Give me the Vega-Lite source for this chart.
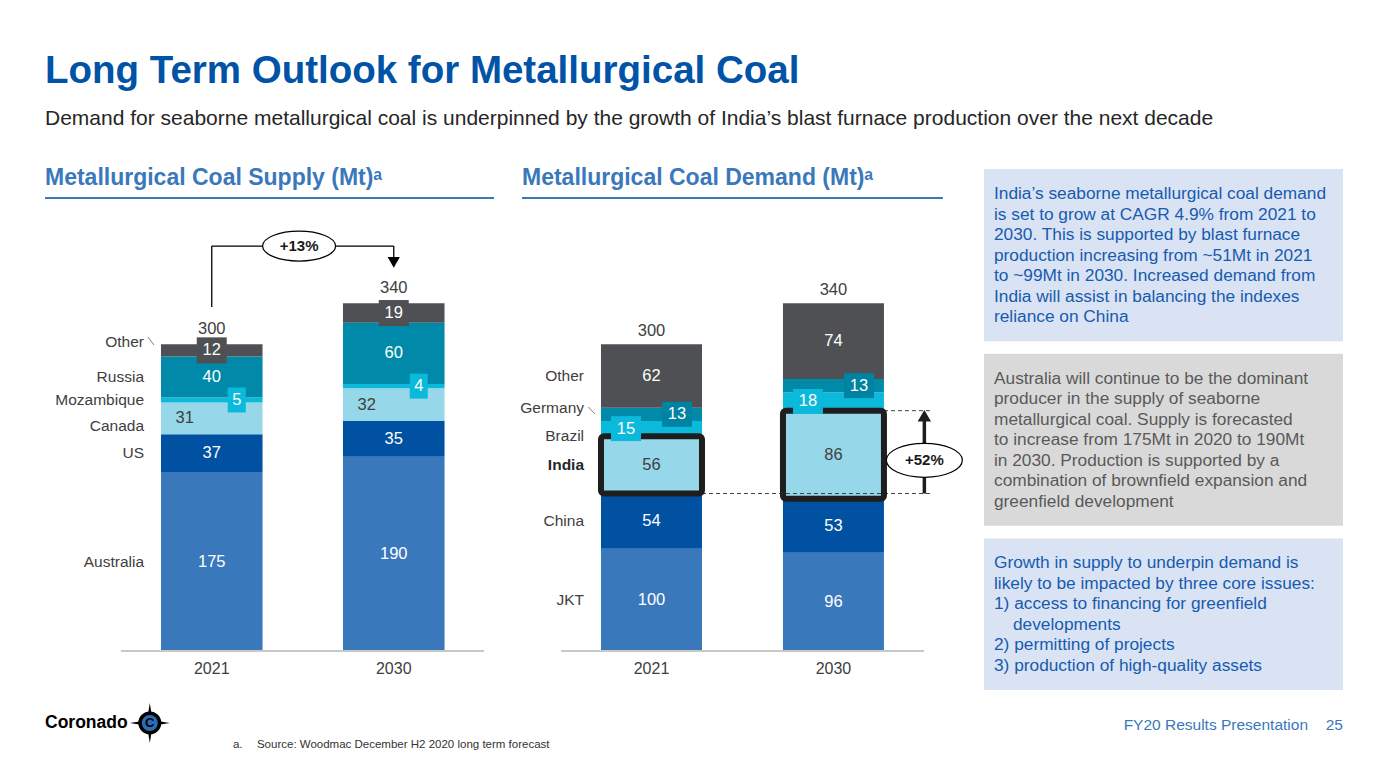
{
  "$schema": "https://vega.github.io/schema/vega-lite/v6.json",
  "background": "white",
  "padding": {"left": 44, "top": 51, "right": 0, "bottom": 0},
  "title": {
    "text": "Long Term Outlook for Metallurgical Coal",
    "subtitle": "Demand for seaborne metallurgical coal is underpinned by the growth of India’s blast furnace production over the next decade",
    "anchor": "start", "frame": "group",
    "font": "Liberation Sans", "fontSize": 38.5, "fontWeight": "bold", "color": "#0053a6",
    "subtitleFont": "Liberation Sans", "subtitleFontSize": 21, "subtitleColor": "#262626",
    "subtitlePadding": 17, "offset": 37
  },
  "datasets": {
    "supply": [
      {"year": "2021", "country": "Australia", "value": 175, "order": 1},
      {"year": "2021", "country": "US", "value": 37, "order": 2},
      {"year": "2021", "country": "Canada", "value": 31, "order": 3},
      {"year": "2021", "country": "Mozambique", "value": 5, "order": 4},
      {"year": "2021", "country": "Russia", "value": 40, "order": 5},
      {"year": "2021", "country": "Other", "value": 12, "order": 6},
      {"year": "2030", "country": "Australia", "value": 190, "order": 1},
      {"year": "2030", "country": "US", "value": 35, "order": 2},
      {"year": "2030", "country": "Canada", "value": 32, "order": 3},
      {"year": "2030", "country": "Mozambique", "value": 4, "order": 4},
      {"year": "2030", "country": "Russia", "value": 60, "order": 5},
      {"year": "2030", "country": "Other", "value": 19, "order": 6}
    ],
    "demand": [
      {"year": "2021", "country": "JKT", "value": 100, "order": 1},
      {"year": "2021", "country": "China", "value": 54, "order": 2},
      {"year": "2021", "country": "India", "value": 56, "order": 3},
      {"year": "2021", "country": "Brazil", "value": 15, "order": 4},
      {"year": "2021", "country": "Germany", "value": 13, "order": 5},
      {"year": "2021", "country": "Other", "value": 62, "order": 6},
      {"year": "2030", "country": "JKT", "value": 96, "order": 1},
      {"year": "2030", "country": "China", "value": 53, "order": 2},
      {"year": "2030", "country": "India", "value": 86, "order": 3},
      {"year": "2030", "country": "Brazil", "value": 18, "order": 4},
      {"year": "2030", "country": "Germany", "value": 13, "order": 5},
      {"year": "2030", "country": "Other", "value": 74, "order": 6}
    ],
    "notes": [
      {"box": "b1", "line": 0, "indent": 0, "text": "India’s seaborne metallurgical coal demand"},
      {"box": "b1", "line": 1, "indent": 0, "text": "is set to grow at CAGR 4.9% from 2021 to"},
      {"box": "b1", "line": 2, "indent": 0, "text": "2030. This is supported by blast furnace"},
      {"box": "b1", "line": 3, "indent": 0, "text": "production increasing from ~51Mt in 2021"},
      {"box": "b1", "line": 4, "indent": 0, "text": "to ~99Mt in 2030. Increased demand from"},
      {"box": "b1", "line": 5, "indent": 0, "text": "India will assist in balancing the indexes"},
      {"box": "b1", "line": 6, "indent": 0, "text": "reliance on China"},
      {"box": "b2", "line": 9, "indent": 0, "text": "Australia will continue to be the dominant"},
      {"box": "b2", "line": 10, "indent": 0, "text": "producer in the supply of seaborne"},
      {"box": "b2", "line": 11, "indent": 0, "text": "metallurgical coal. Supply is forecasted"},
      {"box": "b2", "line": 12, "indent": 0, "text": "to increase from 175Mt in 2020 to 190Mt"},
      {"box": "b2", "line": 13, "indent": 0, "text": "in 2030. Production is supported by a"},
      {"box": "b2", "line": 14, "indent": 0, "text": "combination of brownfield expansion and"},
      {"box": "b2", "line": 15, "indent": 0, "text": "greenfield development"},
      {"box": "b3", "line": 18, "indent": 0, "text": "Growth in supply to underpin demand is"},
      {"box": "b3", "line": 19, "indent": 0, "text": "likely to be impacted by three core issues:"},
      {"box": "b3", "line": 20, "indent": 0, "text": "1) access to financing for greenfield"},
      {"box": "b3", "line": 21, "indent": 1, "text": "developments"},
      {"box": "b3", "line": 22, "indent": 0, "text": "2) permitting of projects"},
      {"box": "b3", "line": 23, "indent": 0, "text": "3) production of high-quality assets"}
    ]
  },
  "spacing": 28,
  "bounds": "flush",
  "resolve": {"scale": {"x": "independent", "y": "independent", "color": "independent"}},
  "hconcat": [
    {
      "width": 449, "height": 453,
      "title": {"text": "Metallurgical Coal Supply (Mt)ᵃ", "anchor": "start", "frame": "group", "font": "Liberation Sans", "fontSize": 23, "fontWeight": "bold", "color": "#3a78bc", "offset": 7},
      "layer": [
        {
          "data": {"name": "supply"},
          "transform": [{"stack": "value", "groupby": ["year"], "sort": [{"field": "order", "order": "ascending"}], "as": ["v0", "v1"]}],
          "mark": {"type": "bar"},
          "encoding": {
            "x": {"field": "year", "type": "nominal", "scale": {"paddingInner": 0.442, "paddingOuter": 0.4545, "align": 0.701}, "axis": {"title": null, "labelAngle": 0}},
            "y": {"field": "v1", "type": "quantitative", "scale": {"domain": [0, 443], "nice": false, "zero": true}, "axis": null},
            "y2": {"field": "v0"},
            "color": {"field": "country", "type": "nominal", "legend": null,
              "scale": {"domain": ["Australia", "US", "Canada", "Mozambique", "Russia", "Other"], "range": ["#3a78bc", "#0051a2", "#96d7e9", "#0bb9da", "#0089a8", "#4e5054"]}}
          }
        },
        {
          "data": {"values": [{}]},
          "mark": {"type": "rule", "color": "#c8c8c8", "strokeWidth": 2},
          "encoding": {"x": {"datum": "2021", "type": "nominal", "bandPosition": -0.394}, "x2": {"datum": "2030", "bandPosition": 1.389}, "y": {"datum": 0, "type": "quantitative"}}
        },
        {
          "data": {"values": [{}]},
          "mark": {"type": "rule", "color": "#3a78bc", "strokeWidth": 2},
          "encoding": {"y": {"datum": 443, "type": "quantitative"}}
        },
        {
          "data": {"name": "supply"},
          "transform": [{"stack": "value", "groupby": ["year"], "sort": [{"field": "order", "order": "ascending"}], "as": ["v0", "v1"]}, {"filter": {"field": "country", "equal": "Other"}}, {"fold": ["v0", "v1"], "as": ["bnd", "pos"]}],
          "mark": {"type": "point", "shape": "M-1,-0.867H1V0.867H-1Z", "size": 900, "filled": true, "color": "#4e5054", "opacity": 1, "strokeWidth": 0},
          "encoding": {"x": {"field": "year", "type": "nominal"}, "y": {"aggregate": "mean", "field": "pos", "type": "quantitative"}}
        },
        {
          "data": {"name": "supply"},
          "transform": [{"stack": "value", "groupby": ["year"], "sort": [{"field": "order", "order": "ascending"}], "as": ["v0", "v1"]}, {"filter": {"field": "country", "equal": "Mozambique"}}, {"fold": ["v0", "v1"], "as": ["bnd", "pos"]}],
          "mark": {"type": "point", "shape": "M-0.72,-1H0.72V1H-0.72Z", "size": 625, "filled": true, "color": "#0bb9da", "opacity": 1, "strokeWidth": 0, "xOffset": 25},
          "encoding": {"x": {"field": "year", "type": "nominal"}, "y": {"aggregate": "mean", "field": "pos", "type": "quantitative"}}
        },
        {
          "data": {"name": "supply"},
          "transform": [{"stack": "value", "groupby": ["year"], "sort": [{"field": "order", "order": "ascending"}], "as": ["v0", "v1"]}, {"filter": {"field": "country", "oneOf": ["Australia", "US", "Russia", "Other"]}}, {"fold": ["v0", "v1"], "as": ["bnd", "pos"]}],
          "mark": {"type": "text", "color": "white", "fontSize": 16.5, "font": "Liberation Sans"},
          "encoding": {"x": {"field": "year", "type": "nominal"}, "y": {"aggregate": "mean", "field": "pos", "type": "quantitative"}, "text": {"field": "value", "type": "quantitative"}, "detail": {"field": "country"}}
        },
        {
          "data": {"name": "supply"},
          "transform": [{"stack": "value", "groupby": ["year"], "sort": [{"field": "order", "order": "ascending"}], "as": ["v0", "v1"]}, {"filter": {"field": "country", "equal": "Canada"}}, {"fold": ["v0", "v1"], "as": ["bnd", "pos"]}],
          "mark": {"type": "text", "color": "#404040", "fontSize": 16.5, "dx": -27, "font": "Liberation Sans"},
          "encoding": {"x": {"field": "year", "type": "nominal"}, "y": {"aggregate": "mean", "field": "pos", "type": "quantitative"}, "text": {"field": "value", "type": "quantitative"}}
        },
        {
          "data": {"name": "supply"},
          "transform": [{"stack": "value", "groupby": ["year"], "sort": [{"field": "order", "order": "ascending"}], "as": ["v0", "v1"]}, {"filter": {"field": "country", "equal": "Mozambique"}}, {"fold": ["v0", "v1"], "as": ["bnd", "pos"]}],
          "mark": {"type": "text", "color": "white", "fontSize": 16.5, "dx": 25, "font": "Liberation Sans"},
          "encoding": {"x": {"field": "year", "type": "nominal"}, "y": {"aggregate": "mean", "field": "pos", "type": "quantitative"}, "text": {"field": "value", "type": "quantitative"}}
        },
        {
          "data": {"name": "supply"},
          "transform": [{"stack": "value", "groupby": ["year"], "sort": [{"field": "order", "order": "ascending"}], "as": ["v0", "v1"]}, {"filter": {"field": "country", "equal": "Other"}}],
          "mark": {"type": "text", "color": "#404040", "fontSize": 16.5, "dy": -15, "font": "Liberation Sans"},
          "encoding": {"x": {"field": "year", "type": "nominal"}, "y": {"field": "v1", "type": "quantitative"}, "text": {"field": "v1", "type": "quantitative"}}
        },
        {
          "data": {"name": "supply"},
          "transform": [{"stack": "value", "groupby": ["year"], "sort": [{"field": "order", "order": "ascending"}], "as": ["v0", "v1"]}, {"filter": {"field": "year", "equal": "2021"}}, {"filter": {"field": "country", "oneOf": ["Russia", "Mozambique", "US", "Australia"]}}, {"fold": ["v0", "v1"], "as": ["bnd", "pos"]}],
          "mark": {"type": "text", "color": "#404040", "fontSize": 15.5, "align": "right", "font": "Liberation Sans"},
          "encoding": {"x": {"field": "year", "type": "nominal", "bandPosition": -0.167}, "y": {"aggregate": "mean", "field": "pos", "type": "quantitative"}, "text": {"field": "country"}}
        },
        {
          "data": {"name": "supply"},
          "transform": [{"stack": "value", "groupby": ["year"], "sort": [{"field": "order", "order": "ascending"}], "as": ["v0", "v1"]}, {"filter": {"field": "year", "equal": "2021"}}, {"filter": {"field": "country", "equal": "Other"}}, {"fold": ["v0", "v1"], "as": ["bnd", "pos"]}],
          "mark": {"type": "text", "color": "#404040", "fontSize": 15.5, "align": "right", "dy": -8, "font": "Liberation Sans"},
          "encoding": {"x": {"field": "year", "type": "nominal", "bandPosition": -0.167}, "y": {"aggregate": "mean", "field": "pos", "type": "quantitative"}, "text": {"field": "country"}}
        },
        {
          "data": {"name": "supply"},
          "transform": [{"stack": "value", "groupby": ["year"], "sort": [{"field": "order", "order": "ascending"}], "as": ["v0", "v1"]}, {"filter": {"field": "year", "equal": "2021"}}, {"filter": {"field": "country", "equal": "Canada"}}, {"fold": ["v0", "v1"], "as": ["bnd", "pos"]}],
          "mark": {"type": "text", "color": "#404040", "fontSize": 15.5, "align": "right", "dy": 8, "font": "Liberation Sans"},
          "encoding": {"x": {"field": "year", "type": "nominal", "bandPosition": -0.167}, "y": {"aggregate": "mean", "field": "pos", "type": "quantitative"}, "text": {"field": "country"}}
        },
        {
          "data": {"values": [{}]},
          "mark": {"type": "rule", "color": "#7f7f7f", "strokeWidth": 1},
          "encoding": {"x": {"datum": "2021", "type": "nominal", "bandPosition": -0.128}, "x2": {"datum": "2021", "bandPosition": -0.069}, "y": {"datum": 307, "type": "quantitative"}, "y2": {"datum": 299.3}}
        },
        {
          "data": {"values": [{}]},
          "mark": {"type": "rule", "color": "black", "strokeWidth": 1.3},
          "encoding": {"x": {"datum": "2021", "type": "nominal", "bandPosition": 0.5}, "y": {"datum": 336.4, "type": "quantitative"}, "y2": {"datum": 396}}
        },
        {
          "data": {"values": [{}]},
          "mark": {"type": "rule", "color": "black", "strokeWidth": 1.3},
          "encoding": {"x": {"datum": "2021", "type": "nominal", "bandPosition": 0.5}, "x2": {"datum": "2030", "bandPosition": 0.5}, "y": {"datum": 396, "type": "quantitative"}}
        },
        {
          "data": {"values": [{}]},
          "mark": {"type": "rule", "color": "black", "strokeWidth": 1.3},
          "encoding": {"x": {"datum": "2030", "type": "nominal", "bandPosition": 0.5}, "y": {"datum": 396, "type": "quantitative"}, "y2": {"datum": 383}}
        },
        {
          "data": {"values": [{}]},
          "mark": {"type": "point", "shape": "triangle-down", "size": 150, "filled": true, "color": "black", "opacity": 1},
          "encoding": {"x": {"datum": "2030", "type": "nominal", "bandPosition": 0.5}, "y": {"datum": 380, "type": "quantitative"}}
        },
        {
          "data": {"values": [{}]},
          "mark": {"type": "point", "shape": "M-1,0A1,0.41,0,1,0,1,0A1,0.41,0,1,0,-1,0Z", "size": 5329, "fill": "white", "stroke": "black", "strokeWidth": 1.2, "opacity": 1, "fillOpacity": 1},
          "encoding": {"x": {"datum": "2021", "type": "nominal", "bandPosition": 1.36}, "y": {"datum": 396, "type": "quantitative"}}
        },
        {
          "data": {"values": [{}]},
          "mark": {"type": "text", "text": "+13%", "fontWeight": "bold", "fontSize": 15, "color": "#1a1a1a", "font": "Liberation Sans"},
          "encoding": {"x": {"datum": "2021", "type": "nominal", "bandPosition": 1.36}, "y": {"datum": 396, "type": "quantitative"}}
        },
        {
          "data": {"values": [{}]},
          "mark": {"type": "text", "text": "Coronado", "fontWeight": "bold", "fontSize": 17.5, "color": "black", "align": "left", "font": "Liberation Sans"},
          "encoding": {"x": {"datum": "2021", "type": "nominal", "bandPosition": -1.142}, "y": {"datum": -70.4, "type": "quantitative"}}
        },
        {
          "data": {"values": [{}]},
          "mark": {"type": "point", "shape": "M0,-1L0.14,-0.14L1,0L0.14,0.14L0,1L-0.14,0.14L-1,0L-0.14,-0.14Z", "size": 1600, "filled": true, "color": "black", "opacity": 1},
          "encoding": {"x": {"datum": "2021", "type": "nominal", "bandPosition": -0.11}, "y": {"datum": -70.4, "type": "quantitative"}}
        },
        {
          "data": {"values": [{}]},
          "mark": {"type": "point", "shape": "circle", "size": 380, "fill": "#2a6db5", "stroke": "black", "strokeWidth": 3.5, "opacity": 1},
          "encoding": {"x": {"datum": "2021", "type": "nominal", "bandPosition": -0.11}, "y": {"datum": -70.4, "type": "quantitative"}}
        },
        {
          "data": {"values": [{}]},
          "mark": {"type": "text", "text": "C", "fontWeight": "bold", "fontSize": 13, "color": "black", "font": "Liberation Sans"},
          "encoding": {"x": {"datum": "2021", "type": "nominal", "bandPosition": -0.11}, "y": {"datum": -70.4, "type": "quantitative"}}
        },
        {
          "data": {"values": [{}]},
          "mark": {"type": "text", "text": "a.", "fontSize": 11.5, "color": "#333333", "align": "left", "font": "Liberation Sans"},
          "encoding": {"x": {"datum": "2021", "type": "nominal", "bandPosition": 0.709}, "y": {"datum": -91.9, "type": "quantitative"}}
        },
        {
          "data": {"values": [{}]},
          "mark": {"type": "text", "text": "Source: Woodmac December H2 2020 long term forecast", "fontSize": 11.5, "color": "#333333", "align": "left", "font": "Liberation Sans"},
          "encoding": {"x": {"datum": "2021", "type": "nominal", "bandPosition": 0.945}, "y": {"datum": -91.9, "type": "quantitative"}}
        }
      ]
    },
    {
      "width": 434, "height": 453,
      "title": {"text": "Metallurgical Coal Demand (Mt)ᵃ", "anchor": "start", "frame": "group", "font": "Liberation Sans", "fontSize": 23, "fontWeight": "bold", "color": "#3a78bc", "offset": 7},
      "layer": [
        {
          "data": {"name": "demand"},
          "transform": [{"stack": "value", "groupby": ["year"], "sort": [{"field": "order", "order": "ascending"}], "as": ["v0", "v1"]}],
          "mark": {"type": "bar"},
          "encoding": {
            "x": {"field": "year", "type": "nominal", "scale": {"paddingInner": 0.445, "paddingOuter": 0.415, "align": 0.523}, "axis": {"title": null, "labelAngle": 0}},
            "y": {"field": "v1", "type": "quantitative", "scale": {"domain": [0, 443], "nice": false, "zero": true}, "axis": null},
            "y2": {"field": "v0"},
            "color": {"field": "country", "type": "nominal", "legend": null,
              "scale": {"domain": ["JKT", "China", "India", "Brazil", "Germany", "Other"], "range": ["#3a78bc", "#0051a2", "#96d7e9", "#0bb9da", "#0089a8", "#4e5054"]}}
          }
        },
        {
          "data": {"values": [{}]},
          "mark": {"type": "rule", "color": "#c8c8c8", "strokeWidth": 2},
          "encoding": {"x": {"datum": "2021", "type": "nominal", "bandPosition": -0.396}, "x2": {"datum": "2030", "bandPosition": 1.396}, "y": {"datum": 0, "type": "quantitative"}}
        },
        {
          "data": {"values": [{}]},
          "mark": {"type": "rule", "color": "#3a78bc", "strokeWidth": 2},
          "encoding": {"x": {"datum": "2021", "type": "nominal", "bandPosition": -0.782}, "x2": {"datum": "2030", "bandPosition": 1.584}, "y": {"datum": 443, "type": "quantitative"}}
        },
        {
          "data": {"values": [{}]},
          "mark": {"type": "rule", "color": "#404040", "strokeWidth": 1, "strokeDash": [4, 3]},
          "encoding": {"x": {"datum": "2021", "type": "nominal", "bandPosition": 1}, "x2": {"datum": "2030", "bandPosition": 1.465}, "y": {"datum": 154, "type": "quantitative"}}
        },
        {
          "data": {"values": [{}]},
          "mark": {"type": "rule", "color": "#404040", "strokeWidth": 1, "strokeDash": [4, 3]},
          "encoding": {"x": {"datum": "2030", "type": "nominal", "bandPosition": 1}, "x2": {"datum": "2030", "bandPosition": 1.465}, "y": {"datum": 235, "type": "quantitative"}}
        },
        {
          "data": {"name": "demand"},
          "transform": [{"stack": "value", "groupby": ["year"], "sort": [{"field": "order", "order": "ascending"}], "as": ["v0", "v1"]}, {"filter": {"field": "country", "equal": "India"}}],
          "mark": {"type": "bar", "filled": false, "fill": "transparent", "stroke": "#1e1e1e", "strokeWidth": 6, "cornerRadius": 3},
          "encoding": {"x": {"field": "year", "type": "nominal"}, "y": {"field": "v1", "type": "quantitative"}, "y2": {"field": "v0"}}
        },
        {
          "data": {"name": "demand"},
          "transform": [{"stack": "value", "groupby": ["year"], "sort": [{"field": "order", "order": "ascending"}], "as": ["v0", "v1"]}, {"filter": {"field": "country", "equal": "Brazil"}}, {"fold": ["v0", "v1"], "as": ["bnd", "pos"]}],
          "mark": {"type": "point", "shape": "M-1,-0.833H1V0.833H-1Z", "size": 900, "filled": true, "color": "#0bb9da", "opacity": 1, "strokeWidth": 0, "xOffset": -25.5},
          "encoding": {"x": {"field": "year", "type": "nominal"}, "y": {"aggregate": "mean", "field": "pos", "type": "quantitative"}}
        },
        {
          "data": {"name": "demand"},
          "transform": [{"stack": "value", "groupby": ["year"], "sort": [{"field": "order", "order": "ascending"}], "as": ["v0", "v1"]}, {"filter": {"field": "country", "equal": "Germany"}}, {"fold": ["v0", "v1"], "as": ["bnd", "pos"]}],
          "mark": {"type": "point", "shape": "M-1,-0.833H1V0.833H-1Z", "size": 900, "filled": true, "color": "#0083a2", "opacity": 1, "strokeWidth": 0, "xOffset": 25.5},
          "encoding": {"x": {"field": "year", "type": "nominal"}, "y": {"aggregate": "mean", "field": "pos", "type": "quantitative"}}
        },
        {
          "data": {"name": "demand"},
          "transform": [{"stack": "value", "groupby": ["year"], "sort": [{"field": "order", "order": "ascending"}], "as": ["v0", "v1"]}, {"filter": {"field": "country", "oneOf": ["JKT", "China", "Other"]}}, {"fold": ["v0", "v1"], "as": ["bnd", "pos"]}],
          "mark": {"type": "text", "color": "white", "fontSize": 16.5, "font": "Liberation Sans"},
          "encoding": {"x": {"field": "year", "type": "nominal"}, "y": {"aggregate": "mean", "field": "pos", "type": "quantitative"}, "text": {"field": "value", "type": "quantitative"}, "detail": {"field": "country"}}
        },
        {
          "data": {"name": "demand"},
          "transform": [{"stack": "value", "groupby": ["year"], "sort": [{"field": "order", "order": "ascending"}], "as": ["v0", "v1"]}, {"filter": {"field": "country", "equal": "India"}}, {"fold": ["v0", "v1"], "as": ["bnd", "pos"]}],
          "mark": {"type": "text", "color": "#404040", "fontSize": 16.5, "font": "Liberation Sans"},
          "encoding": {"x": {"field": "year", "type": "nominal"}, "y": {"aggregate": "mean", "field": "pos", "type": "quantitative"}, "text": {"field": "value", "type": "quantitative"}}
        },
        {
          "data": {"name": "demand"},
          "transform": [{"stack": "value", "groupby": ["year"], "sort": [{"field": "order", "order": "ascending"}], "as": ["v0", "v1"]}, {"filter": {"field": "country", "equal": "Brazil"}}, {"fold": ["v0", "v1"], "as": ["bnd", "pos"]}],
          "mark": {"type": "text", "color": "white", "fontSize": 16.5, "dx": -25.5, "font": "Liberation Sans"},
          "encoding": {"x": {"field": "year", "type": "nominal"}, "y": {"aggregate": "mean", "field": "pos", "type": "quantitative"}, "text": {"field": "value", "type": "quantitative"}}
        },
        {
          "data": {"name": "demand"},
          "transform": [{"stack": "value", "groupby": ["year"], "sort": [{"field": "order", "order": "ascending"}], "as": ["v0", "v1"]}, {"filter": {"field": "country", "equal": "Germany"}}, {"fold": ["v0", "v1"], "as": ["bnd", "pos"]}],
          "mark": {"type": "text", "color": "white", "fontSize": 16.5, "dx": 25.5, "font": "Liberation Sans"},
          "encoding": {"x": {"field": "year", "type": "nominal"}, "y": {"aggregate": "mean", "field": "pos", "type": "quantitative"}, "text": {"field": "value", "type": "quantitative"}}
        },
        {
          "data": {"name": "demand"},
          "transform": [{"stack": "value", "groupby": ["year"], "sort": [{"field": "order", "order": "ascending"}], "as": ["v0", "v1"]}, {"filter": {"field": "country", "equal": "Other"}}],
          "mark": {"type": "text", "color": "#404040", "fontSize": 16.5, "dy": -13, "font": "Liberation Sans"},
          "encoding": {"x": {"field": "year", "type": "nominal"}, "y": {"field": "v1", "type": "quantitative"}, "text": {"field": "v1", "type": "quantitative"}}
        },
        {
          "data": {"name": "demand"},
          "transform": [{"stack": "value", "groupby": ["year"], "sort": [{"field": "order", "order": "ascending"}], "as": ["v0", "v1"]}, {"filter": {"field": "year", "equal": "2021"}}, {"filter": {"field": "country", "oneOf": ["Other", "China", "JKT"]}}, {"fold": ["v0", "v1"], "as": ["bnd", "pos"]}],
          "mark": {"type": "text", "color": "#404040", "fontSize": 15.5, "align": "right", "font": "Liberation Sans"},
          "encoding": {"x": {"field": "year", "type": "nominal", "bandPosition": -0.168}, "y": {"aggregate": "mean", "field": "pos", "type": "quantitative"}, "text": {"field": "country"}}
        },
        {
          "data": {"name": "demand"},
          "transform": [{"stack": "value", "groupby": ["year"], "sort": [{"field": "order", "order": "ascending"}], "as": ["v0", "v1"]}, {"filter": {"field": "year", "equal": "2021"}}, {"filter": {"field": "country", "equal": "India"}}, {"fold": ["v0", "v1"], "as": ["bnd", "pos"]}],
          "mark": {"type": "text", "color": "#262626", "fontSize": 15.5, "fontWeight": "bold", "align": "right", "font": "Liberation Sans"},
          "encoding": {"x": {"field": "year", "type": "nominal", "bandPosition": -0.168}, "y": {"aggregate": "mean", "field": "pos", "type": "quantitative"}, "text": {"field": "country"}}
        },
        {
          "data": {"name": "demand"},
          "transform": [{"stack": "value", "groupby": ["year"], "sort": [{"field": "order", "order": "ascending"}], "as": ["v0", "v1"]}, {"filter": {"field": "year", "equal": "2021"}}, {"filter": {"field": "country", "equal": "Germany"}}, {"fold": ["v0", "v1"], "as": ["bnd", "pos"]}],
          "mark": {"type": "text", "color": "#404040", "fontSize": 15.5, "align": "right", "dy": -6, "font": "Liberation Sans"},
          "encoding": {"x": {"field": "year", "type": "nominal", "bandPosition": -0.168}, "y": {"aggregate": "mean", "field": "pos", "type": "quantitative"}, "text": {"field": "country"}}
        },
        {
          "data": {"name": "demand"},
          "transform": [{"stack": "value", "groupby": ["year"], "sort": [{"field": "order", "order": "ascending"}], "as": ["v0", "v1"]}, {"filter": {"field": "year", "equal": "2021"}}, {"filter": {"field": "country", "equal": "Brazil"}}, {"fold": ["v0", "v1"], "as": ["bnd", "pos"]}],
          "mark": {"type": "text", "color": "#404040", "fontSize": 15.5, "align": "right", "dy": 7, "font": "Liberation Sans"},
          "encoding": {"x": {"field": "year", "type": "nominal", "bandPosition": -0.168}, "y": {"aggregate": "mean", "field": "pos", "type": "quantitative"}, "text": {"field": "country"}}
        },
        {
          "data": {"values": [{}]},
          "mark": {"type": "rule", "color": "#7f7f7f", "strokeWidth": 1},
          "encoding": {"x": {"datum": "2021", "type": "nominal", "bandPosition": -0.125}, "x2": {"datum": "2021", "bandPosition": -0.06}, "y": {"datum": 238.6, "type": "quantitative"}, "y2": {"datum": 231.8}}
        },
        {
          "data": {"values": [{}]},
          "mark": {"type": "rule", "color": "#1e1e1e", "strokeWidth": 3.5},
          "encoding": {"x": {"datum": "2030", "type": "nominal", "bandPosition": 1.4}, "y": {"datum": 154, "type": "quantitative"}, "y2": {"datum": 226}}
        },
        {
          "data": {"values": [{}]},
          "mark": {"type": "point", "shape": "triangle-up", "size": 180, "filled": true, "color": "#1e1e1e", "opacity": 1},
          "encoding": {"x": {"datum": "2030", "type": "nominal", "bandPosition": 1.4}, "y": {"datum": 230, "type": "quantitative"}}
        },
        {
          "data": {"values": [{}]},
          "mark": {"type": "point", "shape": "M-1,0A1,0.447,0,1,0,1,0A1,0.447,0,1,0,-1,0Z", "size": 5776, "fill": "white", "stroke": "black", "strokeWidth": 1.2, "opacity": 1, "fillOpacity": 1},
          "encoding": {"x": {"datum": "2030", "type": "nominal", "bandPosition": 1.4}, "y": {"datum": 186.5, "type": "quantitative"}}
        },
        {
          "data": {"values": [{}]},
          "mark": {"type": "text", "text": "+52%", "fontWeight": "bold", "fontSize": 15, "color": "#1a1a1a", "font": "Liberation Sans"},
          "encoding": {"x": {"datum": "2030", "type": "nominal", "bandPosition": 1.4}, "y": {"datum": 186.5, "type": "quantitative"}}
        }
      ]
    },
    {
      "width": 359, "height": 472,
      "layer": [
        {
          "data": {"name": "notes"},
          "transform": [{"filter": "datum.box != 'b2'"}, {"aggregate": [{"op": "min", "field": "line", "as": "l0"}, {"op": "max", "field": "line", "as": "l1"}], "groupby": ["box"]}],
          "mark": {"type": "rect", "color": "#dae3f3", "yOffset": -29, "y2Offset": 20},
          "encoding": {
            "x": {"datum": 0, "type": "quantitative", "scale": {"domain": [0, 1], "nice": false}, "axis": null},
            "x2": {"datum": 1},
            "y": {"field": "l0", "type": "quantitative", "scale": {"domain": [0, 23], "reverse": true, "nice": false, "zero": false}, "axis": null},
            "y2": {"field": "l1"}
          }
        },
        {
          "data": {"name": "notes"},
          "transform": [{"filter": "datum.box == 'b2'"}, {"aggregate": [{"op": "min", "field": "line", "as": "l0"}, {"op": "max", "field": "line", "as": "l1"}], "groupby": ["box"]}],
          "mark": {"type": "rect", "color": "#d9d9d9", "yOffset": -29, "y2Offset": 20},
          "encoding": {
            "x": {"datum": 0, "type": "quantitative"},
            "x2": {"datum": 1},
            "y": {"field": "l0", "type": "quantitative"},
            "y2": {"field": "l1"}
          }
        },
        {
          "data": {"name": "notes"},
          "transform": [{"filter": "datum.box != 'b2' && datum.indent == 0"}],
          "mark": {"type": "text", "align": "left", "color": "#165bb0", "fontSize": 17.3, "dx": 10, "dy": -4, "font": "Liberation Sans"},
          "encoding": {"x": {"datum": 0, "type": "quantitative"}, "y": {"field": "line", "type": "quantitative"}, "text": {"field": "text"}}
        },
        {
          "data": {"name": "notes"},
          "transform": [{"filter": "datum.indent == 1"}],
          "mark": {"type": "text", "align": "left", "color": "#165bb0", "fontSize": 17.3, "dx": 29, "dy": -4, "font": "Liberation Sans"},
          "encoding": {"x": {"datum": 0, "type": "quantitative"}, "y": {"field": "line", "type": "quantitative"}, "text": {"field": "text"}}
        },
        {
          "data": {"name": "notes"},
          "transform": [{"filter": "datum.box == 'b2'"}],
          "mark": {"type": "text", "align": "left", "color": "#595959", "fontSize": 17.3, "dx": 10, "dy": -4, "font": "Liberation Sans"},
          "encoding": {"x": {"datum": 0, "type": "quantitative"}, "y": {"field": "line", "type": "quantitative"}, "text": {"field": "text"}}
        },
        {
          "data": {"values": [{}]},
          "mark": {"type": "text", "text": "FY20 Results Presentation", "align": "right", "color": "#3a78bc", "fontSize": 15.5, "dx": -35, "font": "Liberation Sans"},
          "encoding": {"x": {"datum": 1, "type": "quantitative"}, "y": {"datum": 25.66, "type": "quantitative"}}
        },
        {
          "data": {"values": [{}]},
          "mark": {"type": "text", "text": "25", "align": "right", "color": "#3a78bc", "fontSize": 15.5, "font": "Liberation Sans"},
          "encoding": {"x": {"datum": 1, "type": "quantitative"}, "y": {"datum": 25.66, "type": "quantitative"}}
        }
      ]
    }
  ],
  "config": {
    "view": {"stroke": null},
    "font": "Liberation Sans",
    "axisQuantitative": {"disable": true},
    "axisBand": {"domain": false, "ticks": false, "labelFontSize": 16, "labelColor": "#404040", "labelPadding": 9, "labelFont": "Liberation Sans"}
  }
}
